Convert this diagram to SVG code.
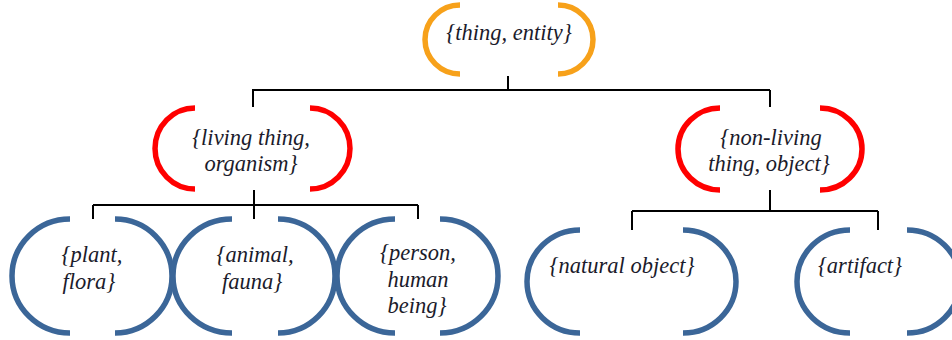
<svg xmlns="http://www.w3.org/2000/svg" width="952" height="340" viewBox="0 0 952 340">
<style>
.br{fill:none;stroke-width:5.5;stroke-linecap:butt}
.o{stroke:#F7A11A}
.r{stroke:#FF0000}
.b{stroke:#3B6698}
.t{font-family:"Liberation Serif","Times New Roman",serif;font-style:italic;font-size:22.5px;fill:#1b1b2b;text-anchor:middle}
.c{fill:none;stroke:#000;stroke-width:2}
</style>
<rect width="952" height="340" fill="#fff"/>
<g id="connectors">
<path class="c" d="M508,76V90M252,90H770M253,90V107M770,90V107"/>
<path class="c" d="M254,190V219M93,205H418M93,205V219M418,205V219"/>
<path class="c" d="M770,190V211M632,211H878M632,211V230M878,211V230"/>
</g>
<g id="thing">
<path class="br o" d="M460,5A35,34.5 0 0 0 460,74M558,5A35,34.5 0 0 1 558,74"/>
<text class="t" x="509" y="40">{thing, entity}</text>
</g>
<g id="living">
<path class="br r" d="M195,108A40,40.5 0 0 0 195,189M310,108A40,40.5 0 0 1 310,189"/>
<text class="t" x="251" y="145">{living thing,</text>
<text class="t" x="251" y="171">organism}</text>
</g>
<g id="nonliving">
<path class="br r" d="M720,108A42,41 0 0 0 720,190M820,108A42,41 0 0 1 820,190"/>
<text class="t" x="771" y="145">{non-living</text>
<text class="t" x="769" y="171">thing, object}</text>
</g>
<g id="plant">
<path class="br b" d="M70,219A58,57 0 0 0 70,333M115,219A57,57 0 0 1 115,333"/>
<text class="t" x="92" y="262">{plant,</text>
<text class="t" x="89" y="289">flora}</text>
</g>
<g id="animal">
<path class="br b" d="M232,219A59,57 0 0 0 232,333M278,219A57,57 0 0 1 278,333"/>
<text class="t" x="255" y="262">{animal,</text>
<text class="t" x="252" y="289">fauna}</text>
</g>
<g id="person">
<path class="br b" d="M395,219A58,57 0 0 0 395,333M440,219A58,57 0 0 1 440,333"/>
<text class="t" x="418" y="260">{person,</text>
<text class="t" x="418" y="287">human</text>
<text class="t" x="417" y="313">being}</text>
</g>
<g id="natural">
<path class="br b" d="M580,230A53,51.5 0 0 0 580,333M683,230A53,51.5 0 0 1 683,333"/>
<text class="t" x="622" y="273">{natural object}</text>
</g>
<g id="artifact">
<path class="br b" d="M850,230A53,51.5 0 0 0 850,333M907,230A53,51.5 0 0 1 907,333"/>
<text class="t" x="860" y="273">{artifact}</text>
</g>
</svg>
